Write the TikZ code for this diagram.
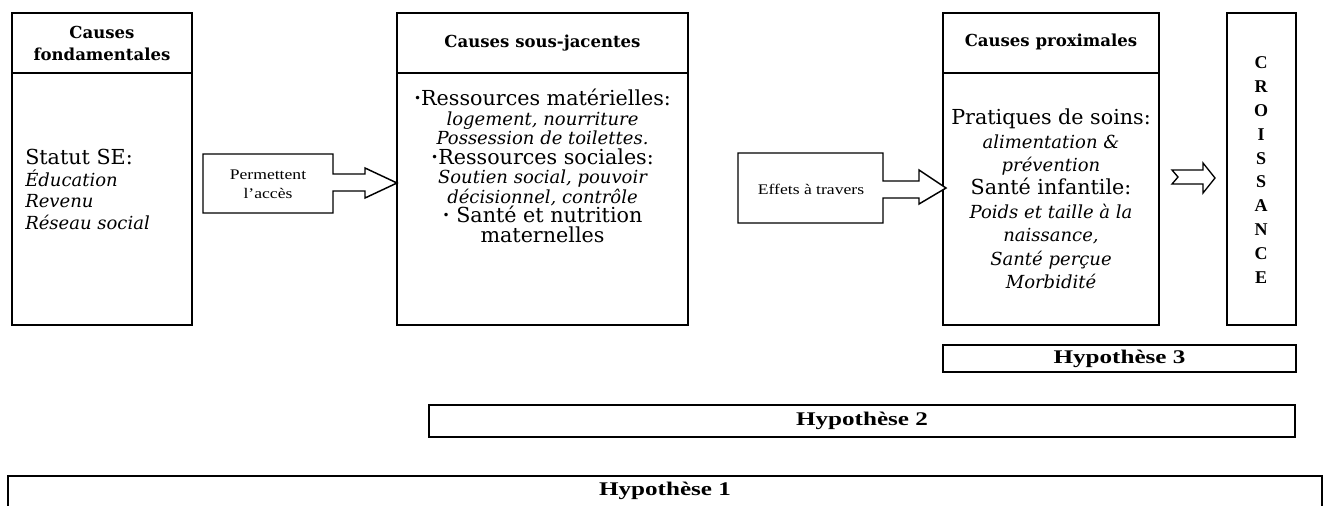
\documentclass[tikz,border=0pt]{standalone}
\usepackage{fontspec}
\setmainfont{DejaVu Serif}
\newfontfamily\tnr[FakeStretch=1.2]{Liberation Serif}
\newfontfamily\hyp[FakeStretch=1.3]{Liberation Serif}
\newfontfamily\cro{Liberation Serif}
\usetikzlibrary{fit}
\newcommand\setfs[2]{\lineskiplimit=-100pt\fontsize{#1}{#2}\selectfont}
\newcommand\ii[1]{{\fontsize{13.5}{10}\selectfont\itshape #1}}
\newcommand\bul{\raisebox{0.15em}{\fontsize{9}{9}\selectfont •}}
\begin{document}
\begin{tikzpicture}[x=0.75pt,y=-0.75pt,
  box/.style={draw, line width=1.4pt, inner sep=0pt},
  sep/.style={line width=1.2pt},
  arr/.style={draw, line width=1.1pt, line join=miter, fill=white},
  hd/.style={font=\setfs{12.4}{17}\bfseries, align=center, inner sep=0pt},
  body/.style={align=center, inner sep=0pt},
  lab/.style={font=\tnr\setfs{11}{14.5}, align=center, inner sep=0pt},
  hypl/.style={font=\hyp\bfseries\setfs{14.5}{16}, inner sep=0pt}]
\useasboundingbox (0,0) rectangle (1326,506);

% main boxes
\node[box, fit={(12,13)(192,325)}] (b1) {};
\node[box, fit={(397,13)(688,325)}] (b2) {};
\node[box, fit={(943,13)(1159,325)}] (b3) {};
\node[box, fit={(1227,13)(1296,325)}] (cro) {};
\draw[sep] (b1.west |- 0,73) -- (b1.east |- 0,73);
\draw[sep] (b2.west |- 0,73) -- (b2.east |- 0,73);
\draw[sep] (b3.west |- 0,73) -- (b3.east |- 0,73);

% headers
\node[hd] (h1t) at (102,43.5) {Causes\\fondamentales};
\node[hd] (h2t) at (542.5,43) {Causes sous-jacentes};
\node[hd] (h3t) at (1051,42) {Causes proximales};

% bodies
\node[body, align=left, anchor=west, font=\setfs{15.5}{16.3}] (s1) at (25,189.5)
  {Statut SE:\\\ii{Éducation}\\\ii{Revenu}\\\ii{Réseau social}};
\node[body, font=\setfs{15.5}{14.6}] (s2) at (542.5,166)
  {\bul Ressources matérielles:\\
   \ii{logement, nourriture}\\
   \ii{Possession de toilettes.}\\
   \bul Ressources sociales:\\
   \ii{Soutien social, pouvoir}\\
   \ii{décisionnel, contrôle}\\
   \bul\ Santé et nutrition\\
   maternelles};
\node[body, font=\setfs{15.5}{17.6}] (s3) at (1051,199)
  {Pratiques de soins:\\
   \ii{alimentation \&}\\
   \ii{prévention}\\
   Santé infantile:\\
   \ii{Poids et taille à la}\\
   \ii{naissance,}\\
   \ii{Santé perçue}\\
   \ii{Morbidité}};
\node[body, font=\cro\bfseries\setfs{13.5}{17.85}] (crt) at (1261,170)
  {C\\R\\O\\I\\S\\S\\A\\N\\C\\E};

% block arrows
\draw[arr] (203,154) -- (333,154) -- (333,174) -- (365,174) -- (365,168)
  -- (397,183) -- (365,198) -- (365,191) -- (333,191) -- (333,213)
  -- (203,213) -- cycle;
\node[lab] (a1) at (268,184) {Permettent\\l’accès};
\draw[arr] (738,153) -- (883,153) -- (883,181) -- (919,181) -- (919,170)
  -- (946,188) -- (919,204) -- (919,198) -- (883,198) -- (883,223)
  -- (738,223) -- cycle;
\node[lab] (a2) at (811,189) {Effets à travers};
\draw[arr, line width=1pt] (1172,170) -- (1203,170) -- (1203,163) -- (1215,178)
  -- (1203,193) -- (1203,184) -- (1172,184) -- (1178,177) -- cycle;

% hypotheses
\node[box, fit={(943,345)(1296,372)}] (hy3) {};
\node[hypl] at (hy3.center) {Hypothèse 3};
\node[box, fit={(429,405)(1295,437)}] (hy2) {};
\node[hypl] at (hy2.center) {Hypothèse 2};
\coordinate (p1) at (8,510);
\coordinate (p2) at (1322,510);
\draw[line width=1.4pt] (p1) -- (8,476) -- (1322,476) -- (p2);
\node[hypl] (hy1) at (665,491) {Hypothèse 1};
\end{tikzpicture}
\end{document}
